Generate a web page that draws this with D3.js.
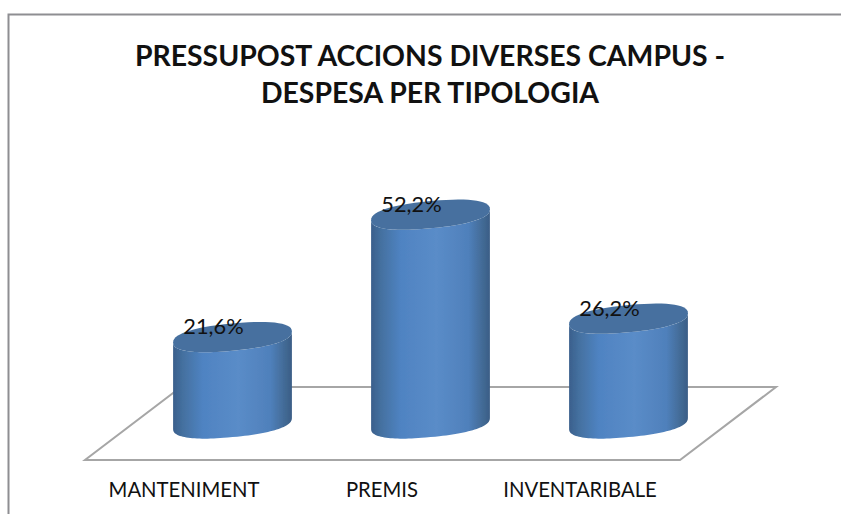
<!DOCTYPE html>
<html>
<head>
<meta charset="utf-8">
<script src="https://cdn.jsdelivr.net/npm/d3@7"></script>
<style>
  html, body { margin: 0; padding: 0; background: #fff; }
  svg { display: block; }
  text { font-family: Lato, "Open Sans", sans-serif; fill: #111; }
</style>
</head>
<body>
<svg id="chart" width="841" height="514"></svg>
<script>
// data
const categories = ['MANTENIMENT', 'PREMIS', 'INVENTARIBALE'];
const shares = [21.6, 52.2, 26.2];
const titleLines = ['PRESSUPOST ACCIONS DIVERSES CAMPUS -', 'DESPESA PER TIPOLOGIA'];

const svg = d3.select('#chart');

// scales
const x = d3.scaleBand()
  .domain(categories)
  .range([133.5, 727.5])
  .paddingInner(0.4)
  .paddingOuter(0.2);
const y = d3.scaleLinear()
  .domain([0, 60])
  .range([423.5, 183.5]);

const fmt = v => v.toFixed(1).replace('.', ',') + '%';

// chart frame, only top and left show
svg.append('path')
  .attr('d', 'M8.5,514V14.5H841')
  .attr('fill', 'none')
  .attr('stroke', '#8e8e92')
  .attr('stroke-width', 2);

// title
svg.append('g').selectAll('text')
  .data(titleLines)
  .join('text')
    .attr('x', 430)
    .attr('y', (d, i) => 66 + i * 37)
    .attr('text-anchor', 'middle')
    .attr('font-size', 28.4)
    .attr('font-weight', 700)
    .text(d => d);

// floor
svg.append('path')
  .attr('d', 'M85,460H680L776,387H181Z')
  .attr('fill', '#fff')
  .attr('stroke', '#a6a6a6')
  .attr('stroke-width', 2);

// cylinder shading
const defs = svg.append('defs');
const side = defs.append('linearGradient').attr('id', 'side');
[[0, '#3a5f8c'], [0.08, '#44709f'], [0.25, '#4f83c2'], [0.55, '#5a8cc8'], [0.82, '#4f80bb'], [0.95, '#416892'], [1, '#3a5d86']]
  .forEach(s => side.append('stop').attr('offset', s[0]).attr('stop-color', s[1]));
defs.append('filter').attr('id', 'soft')
  .append('feGaussianBlur').attr('stdDeviation', 0.5);

// tilted rim outline points, slightly squared so the ends stay round
const rx = x.bandwidth() / 2, ry = 13.6, lean = -5.5, round = 0.85;
const pow = v => Math.sign(v) * Math.pow(Math.abs(v), round);
const rim = (cx, cy, t) => {
  const c = pow(Math.cos(t)), s = pow(Math.sin(t));
  return [cx + rx * c, cy + ry * s + lean * c];
};
const rimPath = (cx, cy, from, to) => d3.range(0, 61)
  .map(i => rim(cx, cy, from + (to - from) * i / 60));

const bars = svg.append('g').selectAll('g')
  .data(categories.map((c, i) => ({ c, v: shares[i] })))
  .join('g');

const line = d3.line();
bars.append('path')
  .attr('fill', 'url(#side)')
  .attr('filter', 'url(#soft)')
  .attr('d', d => {
    const cx = x(d.c) + rx;
    const top = rimPath(cx, y(d.v), Math.PI, 0);
    const bottom = rimPath(cx, y(0), 0, Math.PI);
    return line(top.concat(bottom)) + 'Z';
  });
bars.append('path')
  .attr('fill', '#46709f')
  .attr('filter', 'url(#soft)')
  .attr('d', d => line(rimPath(x(d.c) + rx, y(d.v), 0, 2 * Math.PI)) + 'Z');

// value labels
bars.append('text')
  .attr('x', d => x(d.c) + rx - 19)
  .attr('y', d => y(d.v) - 3)
  .attr('text-anchor', 'middle')
  .attr('font-size', 21.8)
  .text(d => fmt(d.v));

// category axis, shifted left along the floor
const axis = svg.append('g')
  .attr('transform', 'translate(-48.5,476)')
  .call(d3.axisBottom(x).tickSize(0).tickPadding(0));
axis.select('.domain').remove();
axis.selectAll('text')
  .attr('font-size', 20.3)
  .attr('dy', 0)
  .attr('y', 21)
  .style('font-family', 'Lato')
  .style('fill', '#111');
</script>
</body>
</html>
